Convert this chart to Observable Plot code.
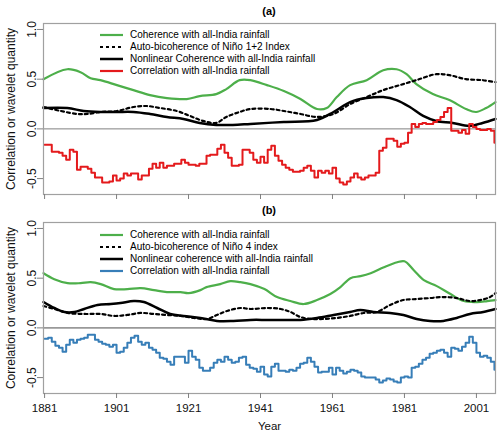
<!DOCTYPE html>
<html><head><meta charset="utf-8">
<script src="https://cdn.jsdelivr.net/npm/d3@7"></script>
<script src="https://cdn.jsdelivr.net/npm/@observablehq/plot@0.6"></script>
<style>
body{margin:0;background:#fff;font-family:"Liberation Sans",Arial,sans-serif;}
#wrap{position:relative;width:500px;height:434px;overflow:hidden;background:#fff}
.pl{position:absolute;left:0}
.ttl{position:absolute;font-weight:bold;font-size:11px;width:60px;text-align:center;left:239px;line-height:12px}
.leg{position:absolute;left:100px;font-size:10px;color:#000}
.row{position:relative;height:12px;line-height:12px;white-space:nowrap}
.row svg{position:absolute;left:0;top:0}
.row span{position:absolute;left:30px;top:0}
</style></head>
<body>
<div id="wrap">
  <div id="pa" class="pl" style="top:0"></div>
  <div id="pb" class="pl" style="top:205px"></div>
  <div class="ttl" style="top:5px">(a)</div>
  <div class="ttl" style="top:204px">(b)</div>
  <div id="lega" class="leg" style="top:28.5px"></div>
  <div id="legb" class="leg" style="top:229px"></div>
</div>
<script>
// ---------- Panel (a) data ----------
const cohA_year = [1880.7,1887.3,1891.0,1893.8,1896.5,1901.1,1905.7,1910.3,1915.0,1920.5,1924.1,1928.7,1931.5,1935.2,1938.2,1942.8,1947.5,1952.1,1956.7,1959.4,1962.2,1965.9,1970.5,1975.1,1978.8,1981.6,1984.3,1988.9,1993.5,1998.1,2000.9,2003.7,2006.3];
const cohA_val  = [0.50,0.60,0.57,0.51,0.49,0.44,0.39,0.34,0.31,0.30,0.33,0.35,0.40,0.49,0.49,0.44,0.38,0.30,0.20,0.21,0.32,0.44,0.49,0.59,0.60,0.55,0.45,0.35,0.29,0.20,0.17,0.21,0.27];

const bicA_year = [1880.7,1885.5,1890.1,1892.9,1896.5,1901.1,1905.7,1909.4,1913.1,1917.7,1921.4,1925.0,1928.7,1931.5,1935.2,1938.2,1943.8,1947.5,1952.1,1956.7,1961.3,1965.9,1970.5,1975.1,1979.7,1984.3,1989.8,1993.5,1998.1,2002.7,2006.3];
const bicA_val  = [0.22,0.18,0.15,0.15,0.17,0.18,0.22,0.23,0.21,0.18,0.13,0.08,0.06,0.12,0.17,0.20,0.20,0.18,0.15,0.12,0.15,0.25,0.32,0.39,0.44,0.49,0.55,0.54,0.50,0.49,0.47];

const nlcA_year = [1880.7,1887.3,1891.9,1896.5,1901.1,1905.7,1910.3,1915.0,1919.6,1924.1,1928.7,1933.3,1938.2,1947.5,1956.7,1961.3,1965.9,1970.5,1975.1,1978.8,1982.5,1986.2,1989.8,1994.4,1999.0,2002.7,2006.3];
const nlcA_val  = [0.21,0.21,0.18,0.17,0.17,0.17,0.15,0.12,0.10,0.06,0.04,0.04,0.05,0.07,0.09,0.17,0.27,0.31,0.32,0.29,0.22,0.13,0.08,0.06,0.03,0.06,0.10];

const corA_start = 1881;
const corA_val = [
 -0.16,-0.16,-0.23,-0.23,-0.24,-0.27,-0.31,-0.21,-0.23,-0.41,
 -0.38,-0.38,-0.40,-0.44,-0.49,-0.49,-0.54,-0.54,-0.53,-0.47,
 -0.52,-0.50,-0.45,-0.47,-0.45,-0.45,-0.51,-0.47,-0.47,-0.40,
 -0.35,-0.39,-0.34,-0.39,-0.37,-0.37,-0.35,-0.35,-0.31,-0.34,
 -0.36,-0.36,-0.37,-0.35,-0.35,-0.27,-0.26,-0.26,-0.20,-0.16,
 -0.24,-0.29,-0.37,-0.37,-0.36,-0.21,-0.21,-0.24,-0.31,-0.34,
 -0.28,-0.34,-0.21,-0.17,-0.27,-0.32,-0.36,-0.39,-0.41,-0.43,
 -0.43,-0.42,-0.39,-0.37,-0.42,-0.49,-0.42,-0.44,-0.42,-0.45,
 -0.39,-0.50,-0.54,-0.56,-0.53,-0.49,-0.45,-0.49,-0.51,-0.49,
 -0.47,-0.47,-0.44,-0.22,-0.19,-0.10,-0.10,-0.12,-0.18,-0.15,
 -0.14,-0.04,0.05,0.02,0.05,0.06,0.05,0.05,0.07,0.09,
 0.12,0.17,0.21,-0.02,-0.02,-0.04,-0.01,-0.05,0.05,0.02,
 0.00,-0.01,-0.01,0.00,-0.02,-0.14];

// ---------- Panel (b) data ----------
const cohB_year = [1880.7,1883.7,1887.4,1891.0,1893.8,1896.6,1900.3,1904.0,1907.7,1911.4,1915.0,1918.8,1921.0,1924.3,1926.0,1929.8,1932.6,1935.4,1938.2,1942.1,1945.6,1949.3,1953.0,1956.7,1960.4,1963.2,1966.0,1968.8,1971.6,1975.3,1979.0,1981.0,1983.6,1986.4,1990.0,1993.8,1997.5,2001.2,2004.0,2006.3];
const cohB_val  = [0.55,0.49,0.45,0.45,0.46,0.44,0.39,0.39,0.40,0.38,0.36,0.36,0.35,0.38,0.41,0.44,0.47,0.46,0.44,0.39,0.31,0.27,0.24,0.28,0.34,0.41,0.50,0.52,0.55,0.61,0.66,0.67,0.58,0.48,0.42,0.34,0.27,0.26,0.27,0.28];

const bicB_year = [1880.7,1884.6,1887.4,1892.0,1896.6,1900.3,1904.0,1907.7,1911.4,1915.0,1918.8,1922.5,1926.2,1928.9,1931.7,1935.4,1938.2,1942.9,1946.6,1949.3,1952.0,1954.8,1958.5,1962.2,1965.9,1969.6,1973.3,1977.0,1980.7,1984.4,1988.1,1991.8,1995.5,1999.2,2002.0,2004.8,2006.3];
const bicB_val  = [0.22,0.18,0.15,0.14,0.14,0.12,0.13,0.15,0.14,0.13,0.12,0.10,0.09,0.13,0.17,0.20,0.19,0.20,0.19,0.16,0.11,0.09,0.09,0.10,0.12,0.15,0.16,0.23,0.28,0.29,0.30,0.31,0.30,0.27,0.28,0.31,0.35];

const nlcB_year = [1880.7,1883.7,1886.5,1889.3,1892.0,1895.7,1899.4,1902.1,1905.8,1908.6,1912.3,1915.9,1919.6,1924.3,1928.9,1933.5,1938.2,1942.9,1947.5,1952.1,1956.7,1961.3,1965.9,1968.7,1972.4,1977.0,1980.7,1984.4,1988.1,1991.8,1995.5,1999.2,2002.9,2006.3];
const nlcB_val  = [0.26,0.20,0.16,0.16,0.19,0.23,0.24,0.25,0.27,0.26,0.20,0.14,0.12,0.10,0.07,0.07,0.08,0.08,0.08,0.08,0.10,0.13,0.16,0.18,0.16,0.15,0.13,0.09,0.07,0.07,0.10,0.14,0.16,0.19];

const corB_start = 1881;
const corB_val = [
 -0.11,-0.10,-0.14,-0.18,-0.20,-0.24,-0.17,-0.12,-0.15,-0.12,
 -0.11,-0.10,-0.07,-0.07,-0.12,-0.14,-0.16,-0.17,-0.19,-0.17,
 -0.25,-0.24,-0.20,-0.15,-0.10,-0.08,-0.14,-0.17,-0.15,-0.20,
 -0.22,-0.25,-0.30,-0.31,-0.34,-0.37,-0.29,-0.29,-0.29,-0.35,
 -0.23,-0.29,-0.32,-0.40,-0.43,-0.43,-0.40,-0.35,-0.32,-0.34,
 -0.29,-0.32,-0.35,-0.34,-0.30,-0.29,-0.37,-0.40,-0.41,-0.44,
 -0.39,-0.47,-0.49,-0.39,-0.36,-0.43,-0.43,-0.44,-0.42,-0.43,
 -0.40,-0.36,-0.35,-0.30,-0.34,-0.39,-0.45,-0.44,-0.44,-0.40,
 -0.47,-0.40,-0.43,-0.46,-0.44,-0.42,-0.43,-0.45,-0.49,-0.50,
 -0.50,-0.50,-0.52,-0.55,-0.53,-0.51,-0.52,-0.54,-0.55,-0.50,
 -0.49,-0.50,-0.40,-0.39,-0.36,-0.32,-0.30,-0.26,-0.25,-0.23,
 -0.22,-0.25,-0.29,-0.20,-0.21,-0.23,-0.19,-0.15,-0.09,-0.15,
 -0.25,-0.29,-0.28,-0.30,-0.34,-0.42];

// ---------- Axes / labels ----------
const xTicks = [1881,1901,1921,1941,1961,1981,2001];
const yTicks = [-0.5,0,0.5,1];
const yLabel = "Correlation or wavelet quantity";
const xLabel = "Year";
const legA = ["Coherence with all-India rainfall","Auto-bicoherence of Niño 1+2 Index","Nonlinear Coherence with all-India rainfall","Correlation with all-India rainfall"];
const legB = ["Coherence with all-India rainfall","Auto-bicoherence of Niño 4 index","Nonlinear coherence with all-India rainfall","Correlation with all-India rainfall"];

const GREEN = "#4daf4a", RED = "#e41a1c", BLUE = "#377eb8", BLACK = "#000";

const pts = (xs, ys) => xs.map((x, i) => ({x, y: ys[i]}));
const steps = (start, ys) => ys.map((y, i) => ({x: start + i, y}));

function panel({height, mt, mb, coh, bic, nlc, cor, corColor, zeroStroke, zeroWidth, bottom}) {
  return Plot.plot({
    width: 500, height,
    marginLeft: 43, marginRight: 5, marginTop: mt, marginBottom: mb,
    x: {domain: [1880.7, 2006.3]},
    y: {domain: [-0.66, 1.06]},
    style: {fontFamily: "'Liberation Sans', Arial, sans-serif", fontSize: "11.5px", background: "transparent", color: "#000"},
    marks: [
      Plot.ruleY([0], {stroke: zeroStroke, strokeWidth: zeroWidth}),
      Plot.line(coh, {x: "x", y: "y", stroke: GREEN, strokeWidth: 2.2, curve: "catmull-rom"}),
      Plot.line(bic, {x: "x", y: "y", stroke: BLACK, strokeWidth: 2.2, strokeDasharray: "3,3", curve: "catmull-rom"}),
      Plot.line(nlc, {x: "x", y: "y", stroke: BLACK, strokeWidth: 2.5, curve: "catmull-rom"}),
      Plot.line(cor, {x: "x", y: "y", stroke: corColor, strokeWidth: 2, curve: "step-after"}),
      Plot.frame({stroke: "#a0a0a0", strokeWidth: 1.2}),
      Plot.axisY({ticks: yTicks, tickFormat: d => d.toFixed(1), tickRotate: -90, tickSize: 6, tickPadding: 2,
        stroke: "#808080", fill: "#111", label: yLabel, labelAnchor: "center", labelOffset: 37, labelArrow: "none", fontSize: 12}),
      Plot.axisX({ticks: xTicks, tickFormat: bottom ? (d => String(d)) : (() => ""), tickSize: 5, tickPadding: 5,
        stroke: "#808080", fill: "#111", label: bottom ? xLabel : null, labelAnchor: "center", labelOffset: 36, labelArrow: "none"})
    ]
  });
}

document.getElementById("pa").appendChild(panel({
  height: 205, mt: 23, mb: 11,
  coh: pts(cohA_year, cohA_val), bic: pts(bicA_year, bicA_val), nlc: pts(nlcA_year, nlcA_val),
  cor: steps(corA_start, corA_val), corColor: RED, zeroStroke: "#808080", zeroWidth: 1, bottom: false
}));
document.getElementById("pb").appendChild(panel({
  height: 229, mt: 17, mb: 41,
  coh: pts(cohB_year, cohB_val), bic: pts(bicB_year, bicB_val), nlc: pts(nlcB_year, nlcB_val),
  cor: steps(corB_start, corB_val), corColor: BLUE, zeroStroke: "#999", zeroWidth: 1.6, bottom: true
}));

function legend(id, labels, corColor) {
  const styles = [[GREEN, 2.2, null], [BLACK, 2.2, "3,3"], [BLACK, 2.5, null], [corColor, 2.2, null]];
  const el = document.getElementById(id);
  labels.forEach((t, i) => {
    const [c, w, dash] = styles[i];
    const row = document.createElement("div");
    row.className = "row";
    row.innerHTML = `<svg width="26" height="12"><line x1="0" x2="23" y1="6" y2="6" stroke="${c}" stroke-width="${w}" ${dash ? `stroke-dasharray="${dash}"` : ""}/></svg><span>${t}</span>`;
    el.appendChild(row);
  });
}
legend("lega", legA, RED);
legend("legb", legB, BLUE);
</script>
</body></html>
